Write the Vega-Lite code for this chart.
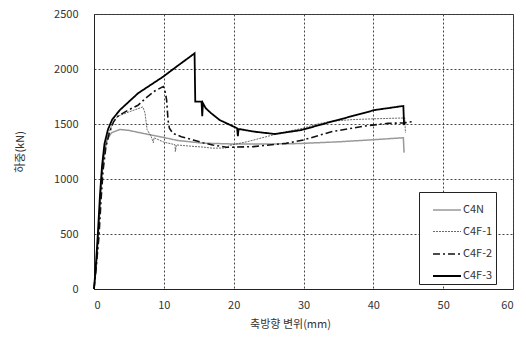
{
  "$schema": "https://vega.github.io/schema/vega-lite/v6.json",
  "width": 419,
  "height": 275,
  "padding": {"left": 14, "top": 8, "right": 5, "bottom": 5},
  "background": "white",
  "config": {
    "font": "Noto Sans CJK KR",
    "view": {"stroke": "#333", "strokeWidth": 1},
    "axis": {
      "labelFont": "Noto Sans CJK KR",
      "titleFont": "Noto Sans CJK KR",
      "labelFontSize": 11,
      "titleFontSize": 11,
      "labelColor": "#333",
      "titleColor": "#333",
      "titleFontWeight": "normal",
      "ticks": false,
      "domainColor": "#222",
      "gridColor": "#444",
      "gridDash": [2, 2],
      "gridOpacity": 1,
      "gridWidth": 1
    }
  },
  "data": {
    "values": [
      {"s": "C4N", "i": 1, "x": 0, "y": 0},
      {"s": "C4N", "i": 2, "x": 0.3, "y": 180},
      {"s": "C4N", "i": 3, "x": 0.6, "y": 450},
      {"s": "C4N", "i": 4, "x": 0.9, "y": 800},
      {"s": "C4N", "i": 5, "x": 1.2, "y": 1080},
      {"s": "C4N", "i": 6, "x": 1.5, "y": 1250},
      {"s": "C4N", "i": 7, "x": 1.9, "y": 1360},
      {"s": "C4N", "i": 8, "x": 2.5, "y": 1420},
      {"s": "C4N", "i": 9, "x": 3.7, "y": 1450},
      {"s": "C4N", "i": 10, "x": 5, "y": 1442},
      {"s": "C4N", "i": 11, "x": 7, "y": 1415},
      {"s": "C4N", "i": 12, "x": 9.4, "y": 1385},
      {"s": "C4N", "i": 13, "x": 12, "y": 1350},
      {"s": "C4N", "i": 14, "x": 15.6, "y": 1326},
      {"s": "C4N", "i": 15, "x": 20, "y": 1318},
      {"s": "C4N", "i": 16, "x": 25, "y": 1318},
      {"s": "C4N", "i": 17, "x": 29.2, "y": 1322},
      {"s": "C4N", "i": 18, "x": 35, "y": 1338},
      {"s": "C4N", "i": 19, "x": 40, "y": 1357},
      {"s": "C4N", "i": 20, "x": 44.3, "y": 1375},
      {"s": "C4N", "i": 21, "x": 44.4, "y": 1240},

      {"s": "C4F-1", "i": 1, "x": 0, "y": 0},
      {"s": "C4F-1", "i": 2, "x": 0.3, "y": 200},
      {"s": "C4F-1", "i": 3, "x": 0.6, "y": 480},
      {"s": "C4F-1", "i": 4, "x": 0.9, "y": 820},
      {"s": "C4F-1", "i": 5, "x": 1.2, "y": 1100},
      {"s": "C4F-1", "i": 6, "x": 1.6, "y": 1300},
      {"s": "C4F-1", "i": 7, "x": 2.0, "y": 1400},
      {"s": "C4F-1", "i": 8, "x": 2.7, "y": 1510},
      {"s": "C4F-1", "i": 9, "x": 3.4, "y": 1570},
      {"s": "C4F-1", "i": 10, "x": 5, "y": 1610},
      {"s": "C4F-1", "i": 11, "x": 7.0, "y": 1655},
      {"s": "C4F-1", "i": 12, "x": 7.3, "y": 1600},
      {"s": "C4F-1", "i": 13, "x": 7.6, "y": 1450},
      {"s": "C4F-1", "i": 14, "x": 8.2, "y": 1385},
      {"s": "C4F-1", "i": 15, "x": 8.5, "y": 1330},
      {"s": "C4F-1", "i": 16, "x": 8.6, "y": 1375},
      {"s": "C4F-1", "i": 17, "x": 10, "y": 1335},
      {"s": "C4F-1", "i": 18, "x": 11.6, "y": 1312},
      {"s": "C4F-1", "i": 19, "x": 11.65, "y": 1250},
      {"s": "C4F-1", "i": 20, "x": 11.8, "y": 1310},
      {"s": "C4F-1", "i": 21, "x": 13.5, "y": 1300},
      {"s": "C4F-1", "i": 22, "x": 15.6, "y": 1290},
      {"s": "C4F-1", "i": 23, "x": 17, "y": 1280},
      {"s": "C4F-1", "i": 24, "x": 18.9, "y": 1282},
      {"s": "C4F-1", "i": 25, "x": 19.4, "y": 1305},
      {"s": "C4F-1", "i": 26, "x": 22, "y": 1340},
      {"s": "C4F-1", "i": 27, "x": 25, "y": 1390},
      {"s": "C4F-1", "i": 28, "x": 27.5, "y": 1430},
      {"s": "C4F-1", "i": 29, "x": 29.9, "y": 1461},
      {"s": "C4F-1", "i": 30, "x": 32, "y": 1500},
      {"s": "C4F-1", "i": 31, "x": 34, "y": 1525},
      {"s": "C4F-1", "i": 32, "x": 37, "y": 1540},
      {"s": "C4F-1", "i": 33, "x": 40, "y": 1547},
      {"s": "C4F-1", "i": 34, "x": 44.5, "y": 1555},
      {"s": "C4F-1", "i": 35, "x": 44.6, "y": 1420},

      {"s": "C4F-2", "i": 1, "x": 0, "y": 0},
      {"s": "C4F-2", "i": 2, "x": 0.3, "y": 190},
      {"s": "C4F-2", "i": 3, "x": 0.7, "y": 470},
      {"s": "C4F-2", "i": 4, "x": 1.0, "y": 800},
      {"s": "C4F-2", "i": 5, "x": 1.3, "y": 1080},
      {"s": "C4F-2", "i": 6, "x": 1.7, "y": 1290},
      {"s": "C4F-2", "i": 7, "x": 2.2, "y": 1420},
      {"s": "C4F-2", "i": 8, "x": 2.8, "y": 1520},
      {"s": "C4F-2", "i": 9, "x": 3.4, "y": 1570},
      {"s": "C4F-2", "i": 10, "x": 5, "y": 1630},
      {"s": "C4F-2", "i": 11, "x": 6.3, "y": 1670},
      {"s": "C4F-2", "i": 12, "x": 7.5, "y": 1740},
      {"s": "C4F-2", "i": 13, "x": 8.7, "y": 1800},
      {"s": "C4F-2", "i": 14, "x": 9.9, "y": 1840},
      {"s": "C4F-2", "i": 15, "x": 10.2, "y": 1790},
      {"s": "C4F-2", "i": 16, "x": 10.4, "y": 1718},
      {"s": "C4F-2", "i": 17, "x": 10.6, "y": 1536},
      {"s": "C4F-2", "i": 18, "x": 10.8, "y": 1461},
      {"s": "C4F-2", "i": 19, "x": 11.3, "y": 1415},
      {"s": "C4F-2", "i": 20, "x": 12.5, "y": 1385},
      {"s": "C4F-2", "i": 21, "x": 14.2, "y": 1355},
      {"s": "C4F-2", "i": 22, "x": 15.6, "y": 1330},
      {"s": "C4F-2", "i": 23, "x": 17, "y": 1309},
      {"s": "C4F-2", "i": 24, "x": 19, "y": 1288},
      {"s": "C4F-2", "i": 25, "x": 22.8, "y": 1294},
      {"s": "C4F-2", "i": 26, "x": 27.5, "y": 1324},
      {"s": "C4F-2", "i": 27, "x": 30, "y": 1355},
      {"s": "C4F-2", "i": 28, "x": 34, "y": 1430},
      {"s": "C4F-2", "i": 29, "x": 38.8, "y": 1482},
      {"s": "C4F-2", "i": 30, "x": 42.1, "y": 1506},
      {"s": "C4F-2", "i": 31, "x": 44.5, "y": 1510},
      {"s": "C4F-2", "i": 32, "x": 45.6, "y": 1522},

      {"s": "C4F-3", "i": 1, "x": 0, "y": 0},
      {"s": "C4F-3", "i": 2, "x": 0.25, "y": 200},
      {"s": "C4F-3", "i": 3, "x": 0.55, "y": 500},
      {"s": "C4F-3", "i": 4, "x": 0.85, "y": 850},
      {"s": "C4F-3", "i": 5, "x": 1.15, "y": 1120},
      {"s": "C4F-3", "i": 6, "x": 1.5, "y": 1320},
      {"s": "C4F-3", "i": 7, "x": 2.0, "y": 1450},
      {"s": "C4F-3", "i": 8, "x": 2.6, "y": 1540},
      {"s": "C4F-3", "i": 9, "x": 3.7, "y": 1627},
      {"s": "C4F-3", "i": 10, "x": 6.3, "y": 1779},
      {"s": "C4F-3", "i": 11, "x": 9.9, "y": 1930},
      {"s": "C4F-3", "i": 12, "x": 12, "y": 2030},
      {"s": "C4F-3", "i": 13, "x": 14.4, "y": 2142},
      {"s": "C4F-3", "i": 14, "x": 14.5, "y": 1703},
      {"s": "C4F-3", "i": 15, "x": 15.4, "y": 1703},
      {"s": "C4F-3", "i": 16, "x": 15.5, "y": 1570},
      {"s": "C4F-3", "i": 17, "x": 15.6, "y": 1690},
      {"s": "C4F-3", "i": 18, "x": 16, "y": 1643},
      {"s": "C4F-3", "i": 19, "x": 16.8, "y": 1597},
      {"s": "C4F-3", "i": 20, "x": 18, "y": 1536},
      {"s": "C4F-3", "i": 21, "x": 20.5, "y": 1461},
      {"s": "C4F-3", "i": 22, "x": 20.6, "y": 1390},
      {"s": "C4F-3", "i": 23, "x": 20.7, "y": 1455},
      {"s": "C4F-3", "i": 24, "x": 23, "y": 1430},
      {"s": "C4F-3", "i": 25, "x": 25.9, "y": 1409},
      {"s": "C4F-3", "i": 26, "x": 29.7, "y": 1445},
      {"s": "C4F-3", "i": 27, "x": 34, "y": 1521},
      {"s": "C4F-3", "i": 28, "x": 40.2, "y": 1627},
      {"s": "C4F-3", "i": 29, "x": 44.3, "y": 1664},
      {"s": "C4F-3", "i": 30, "x": 44.4, "y": 1490}
    ]
  },
  "mark": {"type": "line", "interpolate": "linear"},
  "encoding": {
    "x": {
      "field": "x", "type": "quantitative",
      "scale": {"domain": [0, 60], "nice": false},
      "axis": {"values": [0, 10, 20, 30, 40, 50, 60], "format": "d", "title": "축방향 변위(mm)", "labelPadding": 10, "titlePadding": 8, "titleX": 196, "grid": true}
    },
    "y": {
      "field": "y", "type": "quantitative",
      "scale": {"domain": [0, 2500], "nice": false},
      "axis": {"values": [0, 500, 1000, 1500, 2000, 2500], "format": "d", "title": "하중(kN)", "labelPadding": 16, "titlePadding": 28, "grid": true}
    },
    "order": {"field": "i", "type": "quantitative"},
    "color": {
      "field": "s", "type": "nominal",
      "scale": {"type": "ordinal", "domain": ["C4N", "C4F-1", "C4F-2", "C4F-3"], "range": ["#999999", "#444444", "#111111", "#000000"]},
      "legend": {
        "title": null,
        "orient": "none",
        "legendX": 325,
        "legendY": 178,
        "symbolType": "stroke",
        "symbolSize": 784,
        "symbolOffset": 10,
        "labelFontSize": 11,
        "labelColor": "#333",
        "labelFont": "Noto Sans CJK KR",
        "labelOffset": 1,
        "rowPadding": 2,
        "padding": 3,
        "fillColor": "white",
        "strokeColor": "#222"
      }
    },
    "strokeDash": {
      "field": "s", "type": "nominal",
      "scale": {"type": "ordinal", "domain": ["C4N", "C4F-1", "C4F-2", "C4F-3"], "range": [[1, 0], [2, 1], [7, 3, 2, 3], [1, 0]]},
      "legend": null
    },
    "strokeWidth": {
      "field": "s", "type": "nominal",
      "scale": {"type": "ordinal", "domain": ["C4N", "C4F-1", "C4F-2", "C4F-3"], "range": [1.5, 0.8, 1.6, 1.8]},
      "legend": null
    }
  }
}
